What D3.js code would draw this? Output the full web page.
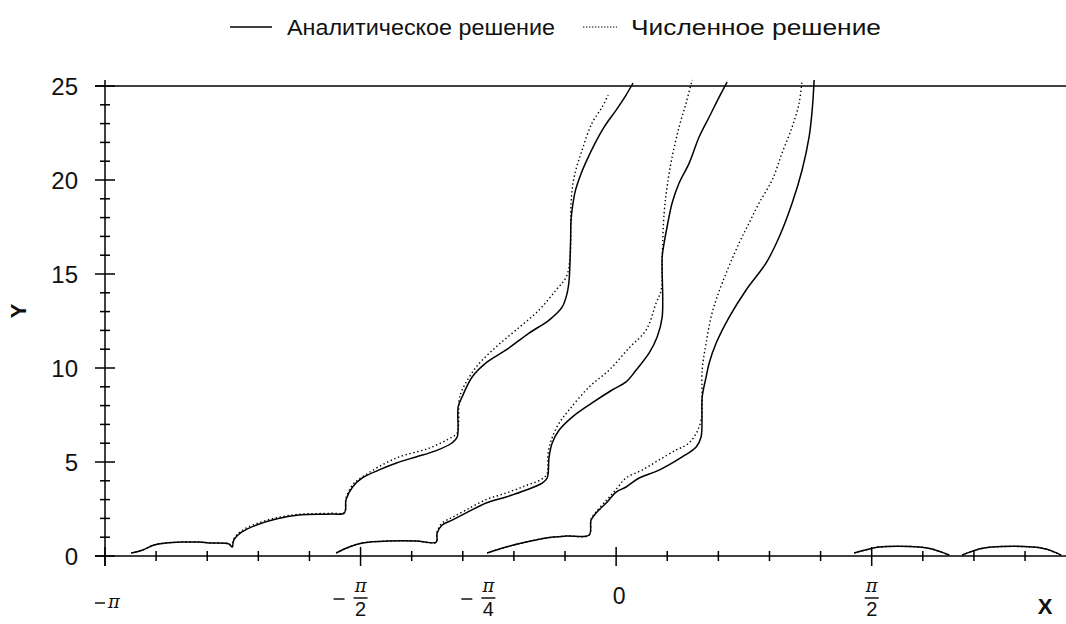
<!DOCTYPE html>
<html>
<head>
<meta charset="utf-8">
<script src="https://cdn.jsdelivr.net/npm/d3@7"></script>
<style>
  body { margin: 0; background: #fff; }
  svg { display: block; font-family: "Liberation Sans", Arial, sans-serif; }
</style>
</head>
<body>
<div id="chart"></div>
<script>
const PI = Math.PI;

// legend entries
const seriesNames = ['Аналитическое решение', 'Численное решение'];

// x tick labels (value in radians, text)
const xLabels = [
  { v: -PI, num: 'π', den: null, neg: true },
  { v: -PI / 2, num: 'π', den: '2', neg: true },
  { v: -PI / 4, num: 'π', den: '4', neg: true },
  { v: 0, num: '0', den: null, neg: false },
  { v: PI / 2, num: 'π', den: '2', neg: false }
];
const yLabels = [0, 5, 10, 15, 20, 25];

// analytic solution, three branches + two small arcs
const analyticA = [
  [-2.98, 0.16], [-2.91, 0.32], [-2.84, 0.59], [-2.77, 0.69], [-2.67, 0.74], [-2.56, 0.74],
  [-2.50, 0.69], [-2.38, 0.64], [-2.36, 0.48], [-2.35, 0.85], [-2.30, 1.28], [-2.21, 1.65],
  [-2.09, 1.97], [-1.95, 2.18], [-1.75, 2.23], [-1.67, 2.29], [-1.66, 3.0], [-1.62, 3.67],
  [-1.56, 4.15], [-1.46, 4.57], [-1.35, 4.95], [-1.23, 5.27], [-1.11, 5.59], [-1.01, 6.01],
  [-0.977, 6.33], [-0.971, 7.93], [-0.947, 8.46], [-0.885, 9.52], [-0.80, 10.27],
  [-0.676, 10.96], [-0.535, 11.86], [-0.412, 12.55], [-0.332, 13.24], [-0.301, 13.99],
  [-0.289, 14.68], [-0.280, 16.8], [-0.277, 17.87], [-0.268, 18.60], [-0.250, 19.45],
  [-0.215, 20.35], [-0.175, 21.15], [-0.130, 21.95], [-0.075, 22.80], [0, 23.72],
  [0.061, 24.52], [0.104, 25.16]
];
const analyticB = [
  [-1.721, 0.16], [-1.641, 0.48], [-1.561, 0.69], [-1.395, 0.80], [-1.229, 0.80], [-1.106, 0.74],
  [-1.100, 1.22], [-1.069, 1.65], [-1.008, 1.91], [-0.922, 2.29], [-0.799, 2.82], [-0.676, 3.14],
  [-0.553, 3.51], [-0.455, 3.88], [-0.424, 4.15], [-0.412, 5.27], [-0.393, 6.01], [-0.350, 6.70],
  [-0.270, 7.39], [-0.148, 8.14], [-0.025, 8.83], [0.061, 9.26], [0.123, 9.89], [0.203, 10.80],
  [0.252, 11.65], [0.283, 12.71], [0.283, 15.90], [0.295, 16.65], [0.313, 17.50], [0.344, 18.78],
  [0.387, 19.84], [0.449, 20.90], [0.510, 22.29], [0.572, 23.35], [0.633, 24.41], [0.682, 25.21]
];
const analyticC = [
  [-0.793, 0.16], [-0.676, 0.48], [-0.553, 0.74], [-0.430, 0.96], [-0.307, 1.06], [-0.166, 1.12],
  [-0.154, 1.91], [-0.123, 2.29], [-0.061, 2.82], [0, 3.40], [0.061, 3.67], [0.141, 4.15],
  [0.264, 4.57], [0.406, 5.27], [0.492, 5.80], [0.522, 6.33], [0.529, 8.46], [0.553, 9.52],
  [0.572, 10.27], [0.615, 11.33], [0.695, 12.71], [0.799, 14.15], [0.922, 15.59], [1.002, 16.97],
  [1.082, 18.78], [1.143, 20.53], [1.186, 22.29], [1.205, 23.72], [1.217, 25.32]
];
const analyticArc1 = [
  [1.463, 0.16], [1.555, 0.37], [1.616, 0.48], [1.862, 0.48], [1.942, 0.37], [2.047, 0.05]
];
const analyticArc2 = [
  [2.127, 0.05], [2.231, 0.37], [2.311, 0.48], [2.557, 0.48], [2.643, 0.37], [2.735, 0.05]
];

// numerical solution
const numericA = [
  [-2.98, 0.16], [-2.91, 0.32], [-2.84, 0.59], [-2.77, 0.69], [-2.67, 0.74], [-2.56, 0.74],
  [-2.50, 0.69], [-2.38, 0.64], [-2.36, 0.48], [-2.35, 0.9], [-2.30, 1.35], [-2.21, 1.72],
  [-2.09, 2.03], [-1.95, 2.22], [-1.75, 2.27], [-1.67, 2.32], [-1.66, 3.1], [-1.62, 3.78],
  [-1.561, 4.20], [-1.352, 5.21], [-1.149, 5.74], [-1.008, 6.33], [-0.977, 6.54], [-0.965, 8.30],
  [-0.947, 8.83], [-0.860, 10.05], [-0.738, 11.12], [-0.615, 12.02], [-0.473, 13.09],
  [-0.369, 14.15], [-0.307, 14.84], [-0.283, 15.90], [-0.277, 18.78], [-0.258, 20.16],
  [-0.209, 21.60], [-0.148, 23.03], [-0.086, 23.88], [-0.049, 24.52]
];
const numericB = [
  [-1.721, 0.16], [-1.641, 0.48], [-1.561, 0.69], [-1.395, 0.80], [-1.229, 0.80], [-1.106, 0.74],
  [-1.100, 1.30], [-1.069, 1.75], [-1.008, 2.05], [-0.922, 2.45], [-0.799, 3.0], [-0.676, 3.35],
  [-0.553, 3.75], [-0.455, 4.1], [-0.424, 4.4], [-0.418, 5.5], [-0.393, 6.3], [-0.350, 7.07],
  [-0.289, 7.77], [-0.166, 8.99], [-0.043, 9.89], [0.080, 11.07], [0.184, 12.02], [0.246, 13.46],
  [0.277, 14.15], [0.283, 15.90], [0.295, 18.24], [0.313, 19.63], [0.344, 21.22], [0.387, 22.82],
  [0.430, 24.10], [0.467, 25.32]
];
const numericC = [
  [-0.793, 0.16], [-0.676, 0.48], [-0.553, 0.74], [-0.430, 0.96], [-0.307, 1.06], [-0.166, 1.12],
  [-0.154, 1.95], [-0.123, 2.35], [-0.061, 2.95], [0, 3.55], [0.061, 4.15], [0.160, 4.57],
  [0.264, 5.11], [0.369, 5.64], [0.430, 5.90], [0.479, 6.33], [0.522, 7.23], [0.529, 9.89],
  [0.553, 11.33], [0.590, 12.93], [0.652, 14.52], [0.756, 16.65], [0.817, 17.71], [0.879, 18.78],
  [0.959, 20.0], [1.020, 21.44], [1.082, 22.82], [1.125, 24.10], [1.143, 25.32]
];
const numericArc1 = analyticArc1;
const numericArc2 = analyticArc2;

const width = 1066;
const height = 624;
const margin = { left: 105, right: 0, top: 86, bottom: 68 };

const svg = d3.select('#chart').append('svg')
  .attr('width', width)
  .attr('height', height);

const x = d3.scaleLinear()
  .domain([-PI, -PI + (width - margin.left) / 162.7])
  .range([margin.left, width]);
const y = d3.scaleLinear()
  .domain([0, 25])
  .range([height - margin.bottom, margin.top]);

const line = d3.line()
  .curve(d3.curveCatmullRom.alpha(0.5))
  .x((d) => x(d[0]))
  .y((d) => y(d[1]));

// curves
const plot = svg.append('g');
[analyticA, analyticB, analyticC, analyticArc1, analyticArc2].forEach((s) => {
  plot.append('path')
    .datum(s)
    .attr('fill', 'none')
    .attr('stroke', '#000')
    .attr('stroke-width', 1.5)
    .attr('stroke-linejoin', 'round')
    .attr('d', line);
});
[numericA, numericB, numericC, numericArc1, numericArc2].forEach((s) => {
  plot.append('path')
    .datum(s)
    .attr('fill', 'none')
    .attr('stroke', '#000')
    .attr('stroke-width', 1.4)
    .attr('stroke-dasharray', '1.4,2.6')
    .attr('d', line);
});

// axes
const axes = svg.append('g').attr('stroke', '#000').attr('stroke-width', 1.5);
const y0 = y(0);
const xa = x(-PI);

axes.append('line')
  .attr('x1', xa - 10).attr('x2', width)
  .attr('y1', y0).attr('y2', y0);
axes.append('line')
  .attr('x1', xa - 10).attr('x2', width)
  .attr('y1', y(25)).attr('y2', y(25));
axes.append('line')
  .attr('x1', xa).attr('x2', xa)
  .attr('y1', y(25) - 6).attr('y2', y0 + 10);

// y ticks: minor every 1, major every 5
d3.range(0, 26).forEach((v) => {
  const major = v % 5 === 0;
  axes.append('line')
    .attr('x1', xa - (major ? 10 : 5)).attr('x2', xa + (major ? 10 : 5))
    .attr('y1', y(v)).attr('y2', y(v));
});

// x ticks: minor every pi/10, major every pi/2
d3.range(-10, 9).forEach((k) => {
  const major = k % 5 === 0;
  axes.append('line')
    .attr('x1', x(k * PI / 10)).attr('x2', x(k * PI / 10))
    .attr('y1', y0 - (major ? 9 : 5)).attr('y2', y0 + (major ? 10 : 5));
});

// y labels
svg.append('g')
  .selectAll('text')
  .data(yLabels)
  .join('text')
  .attr('x', xa - 27)
  .attr('y', (d) => y(d))
  .attr('dy', '0.36em')
  .attr('text-anchor', 'end')
  .attr('font-size', 24)
  .attr('fill', '#111')
  .text((d) => d);

// x labels
const xl = svg.append('g')
  .selectAll('g')
  .data(xLabels)
  .join('g')
  .attr('transform', (d) => `translate(${x(d.v)},0)`);

xl.each(function (d) {
  const g = d3.select(this);
  if (d.num === '0') {
    g.append('text')
      .attr('x', 3).attr('y', 604)
      .attr('text-anchor', 'middle')
      .attr('font-size', 23)
      .attr('fill', '#111')
      .text('0');
    return;
  }
  const piStyle = (t) => t
    .attr('font-family', '"DejaVu Serif", "Liberation Serif", serif')
    .attr('font-style', 'italic')
    .attr('font-size', 18)
    .attr('fill', '#111');
  if (d.den) {
    g.append('text').call(piStyle)
      .attr('x', 0).attr('y', 592)
      .attr('text-anchor', 'middle').text(d.num);
    g.append('line')
      .attr('x1', -7).attr('x2', 7)
      .attr('y1', 598).attr('y2', 598)
      .attr('stroke', '#111').attr('stroke-width', 1.5);
    g.append('text')
      .attr('x', 0).attr('y', 616)
      .attr('text-anchor', 'middle')
      .attr('font-size', 20)
      .attr('fill', '#111')
      .text(d.den);
    if (d.neg) {
      g.append('line')
        .attr('x1', -27).attr('x2', -16)
        .attr('y1', 599).attr('y2', 599)
        .attr('stroke', '#111').attr('stroke-width', 1.5);
    }
  } else {
    g.append('line')
      .attr('x1', -10).attr('x2', 0)
      .attr('y1', 603).attr('y2', 603)
      .attr('stroke', '#111').attr('stroke-width', 1.5);
    g.append('text').call(piStyle)
      .attr('x', 3).attr('y', 608)
      .attr('text-anchor', 'start').text(d.num);
  }
});

// axis titles
svg.append('text')
  .attr('x', 1045).attr('y', 614)
  .attr('text-anchor', 'middle')
  .attr('font-size', 22)
  .attr('font-weight', 'bold')
  .attr('fill', '#111')
  .text('X');
svg.append('text')
  .attr('transform', 'translate(26,311) rotate(-90)')
  .attr('text-anchor', 'middle')
  .attr('font-size', 22)
  .attr('font-weight', 'bold')
  .attr('fill', '#111')
  .text('Y');

// legend
const legend = svg.append('g');
const legendItems = [
  { name: seriesNames[0], x1: 230, x2: 272, tx: 287, w: 268, dash: null },
  { name: seriesNames[1], x1: 583, x2: 617, tx: 631, w: 250, dash: '1.4,1.6' }
];
legendItems.forEach((d) => {
  legend.append('line')
    .attr('x1', d.x1).attr('x2', d.x2)
    .attr('y1', 27).attr('y2', 27)
    .attr('stroke', '#000')
    .attr('stroke-width', d.dash ? 1.2 : 1.5)
    .attr('stroke-dasharray', d.dash);
  legend.append('text')
    .attr('x', d.tx).attr('y', 27)
    .attr('dy', '0.36em')
    .attr('font-size', 22)
    .attr('textLength', d.w)
    .attr('lengthAdjust', 'spacingAndGlyphs')
    .attr('fill', '#111')
    .text(d.name);
});
</script>
</body>
</html>
